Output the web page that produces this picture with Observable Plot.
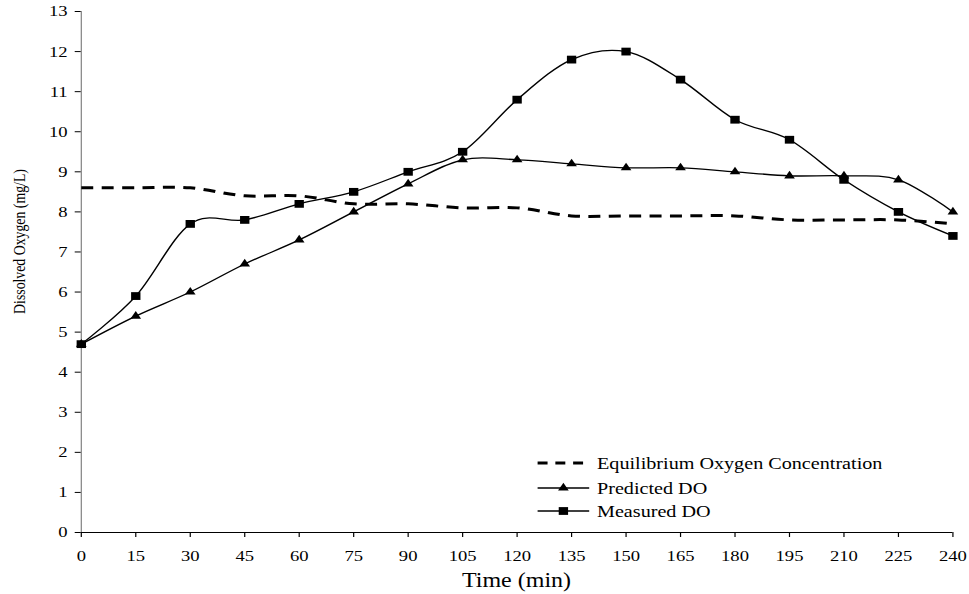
<!DOCTYPE html>
<html>
<head>
<meta charset="utf-8">
<script src="https://cdn.jsdelivr.net/npm/d3@7"></script>
<script src="https://cdn.jsdelivr.net/npm/@observablehq/plot@0.6"></script>
<style>
  body { margin: 0; background: white; }
  #chart svg { display: block; }
</style>
</head>
<body>
<div id="chart"></div>
<script>
// ---- data ----
const minutes = [0, 15, 30, 45, 60, 75, 90, 105, 120, 135, 150, 165, 180, 195, 210, 225, 240];
const equilibriumDO = [8.6, 8.6, 8.6, 8.4, 8.4, 8.2, 8.2, 8.1, 8.1, 7.9, 7.9, 7.9, 7.9, 7.8, 7.8, 7.8, 7.7];
const predictedDO = [4.7, 5.4, 6.0, 6.7, 7.3, 8.0, 8.7, 9.3, 9.3, 9.2, 9.1, 9.1, 9.0, 8.9, 8.9, 8.8, 8.0];
const measuredDO = [4.7, 5.9, 7.7, 7.8, 8.2, 8.5, 9.0, 9.5, 10.8, 11.8, 12.0, 11.3, 10.3, 9.8, 8.8, 8.0, 7.4];
const xTicks = [0, 15, 30, 45, 60, 75, 90, 105, 120, 135, 150, 165, 180, 195, 210, 225, 240];
const yTicks = [0, 1, 2, 3, 4, 5, 6, 7, 8, 9, 10, 11, 12, 13];
const seriesNames = ["Equilibrium Oxygen Concentration", "Predicted DO", "Measured DO"];
const xTitle = "Time (min)";
const yTitle = "Dissolved Oxygen (mg/L)";

const toRows = (vals) => minutes.map((m, i) => ({time: m, value: vals[i]}));
const eqRows = toRows(equilibriumDO);
const predRows = toRows(predictedDO);
const measRows = toRows(measuredDO);

// The original is horizontally stretched; draw at a narrower width and stretch.
const OUT_W = 969, H = 594;
const SX = 1.2;
const W = OUT_W / SX;
const font = "'Liberation Serif', 'Times New Roman', serif";
const mL = 67.25, mR = 13.9, mT = 11, mB = 62;

const chart = Plot.plot({
  width: W,
  height: H,
  marginLeft: mL,
  marginRight: mR,
  marginTop: mT,
  marginBottom: mB,
  x: {domain: [0, 240]},
  y: {domain: [0, 13]},
  style: {fontFamily: font, fontSize: "15.5px", color: "black", background: "white", overflow: "visible"},
  marks: [
    Plot.ruleX([0], {stroke: "#808080", strokeWidth: 1}),
    Plot.ruleY([0], {stroke: "black", strokeWidth: 1}),
    Plot.axisY({ticks: yTicks, tickSize: 5, tickPadding: 6.4, stroke: "black", label: null, fontSize: 15.5}),
    Plot.axisX({ticks: xTicks, tickSize: 5, tickPadding: 12.7, stroke: "black", label: null, fontSize: 15.5}),
    Plot.line(eqRows, {x: "time", y: "value", curve: "cardinal", tension: 0, stroke: "black", strokeWidth: 3, strokeDasharray: "10,7", strokeLinecap: "butt"}),
    Plot.line(predRows, {x: "time", y: "value", curve: "cardinal", tension: 0, stroke: "black", strokeWidth: 1.3}),
    Plot.dot(predRows, {x: "time", y: "value", symbol: "triangle", r: 3.3, fill: "black", stroke: "none"}),
    Plot.line(measRows, {x: "time", y: "value", curve: "cardinal", tension: 0, stroke: "black", strokeWidth: 1.3}),
    Plot.dot(measRows, {x: "time", y: "value", symbol: "square", r: 4.4, fill: "black", stroke: "none"})
  ]
});

const svg = d3.select(chart);

// axis titles
svg.append("text")
  .attr("x", (mL + (W - mR)) / 2).attr("y", 587)
  .attr("text-anchor", "middle").attr("fill", "black")
  .style("font-family", font).style("font-size", "20px")
  .text(xTitle);
svg.append("text")
  .attr("transform", `translate(20.8,241.5) rotate(-90)`)
  .attr("text-anchor", "middle").attr("fill", "black")
  .style("font-family", font).style("font-size", "13.8px")
  .text(yTitle);

// legend
const lg = svg.append("g")
  .style("font-family", font)
  .style("font-size", "16.8px")
  .attr("text-anchor", "start");
const rowsY = [463, 488, 511];
const lx0 = 448, lx1 = 491, ltx = 497.5, lmx = (lx0 + lx1) / 2;
seriesNames.forEach((name, i) => {
  const y = rowsY[i];
  const ln = lg.append("line").attr("x1", lx0).attr("x2", lx1).attr("y1", y).attr("y2", y).attr("stroke", "black");
  if (i === 0) ln.attr("stroke-width", 3).attr("stroke-dasharray", "8.3,6.5").attr("stroke-linecap", "butt");
  else ln.attr("stroke-width", 1.3);
  if (i === 1) lg.append("path").attr("transform", `translate(${lmx},${y})`).attr("d", d3.symbol(d3.symbolTriangle, Math.PI * 3.3 * 3.3)()).attr("fill", "black");
  if (i === 2) lg.append("path").attr("transform", `translate(${lmx},${y})`).attr("d", d3.symbol(d3.symbolSquare, Math.PI * 4.4 * 4.4)()).attr("fill", "black");
  lg.append("text").attr("x", ltx).attr("y", y).attr("dy", "0.35em").attr("fill", "black").attr("text-anchor", "start").text(name);
});

chart.setAttribute("width", OUT_W);
chart.setAttribute("height", H);
chart.setAttribute("viewBox", `0 0 ${W} ${H}`);
chart.setAttribute("preserveAspectRatio", "none");
chart.style.width = OUT_W + "px";
chart.style.height = H + "px";
chart.style.maxWidth = "none";
document.getElementById("chart").appendChild(chart);
</script>
</body>
</html>
